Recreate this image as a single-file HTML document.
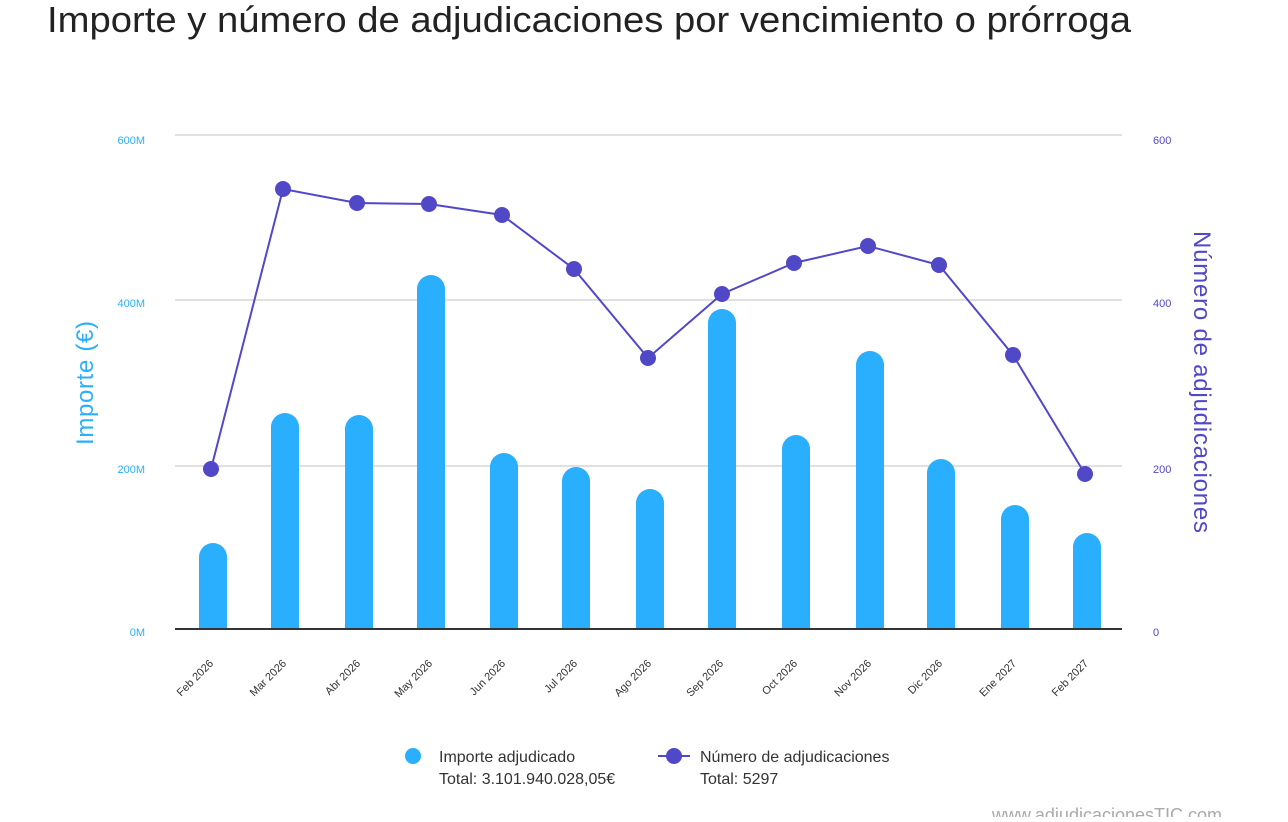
<!DOCTYPE html><html><head><meta charset="utf-8"><style>body{margin:0;background:#fff;width:1288px;height:817px;overflow:hidden;font-family:"Liberation Sans",sans-serif}</style></head><body>
<svg width="1288" height="817" xmlns="http://www.w3.org/2000/svg" font-family="Liberation Sans, sans-serif">
<text x="47" y="32" font-size="36" fill="#222" textLength="1084" lengthAdjust="spacingAndGlyphs">Importe y número de adjudicaciones por vencimiento o prórroga</text>
<g stroke="#e0e0e0" stroke-width="2"><line x1="175" y1="135" x2="1122" y2="135"/><line x1="175" y1="300" x2="1122" y2="300"/><line x1="175" y1="466" x2="1122" y2="466"/></g>
<g fill="#2aaefe" font-size="11" text-anchor="end"><text x="145" y="144">600M</text><text x="145" y="307">400M</text><text x="145" y="473">200M</text><text x="145" y="636">0M</text></g>
<g fill="#5148c8" font-size="11"><text x="1153" y="144">600</text><text x="1153" y="307">400</text><text x="1153" y="473">200</text><text x="1153" y="636">0</text></g>
<text transform="translate(93,383) rotate(-90)" text-anchor="middle" font-size="24" fill="#2aaefe" textLength="124">Importe (€)</text>
<text transform="translate(1194,382) rotate(90)" text-anchor="middle" font-size="24" fill="#5148c8" textLength="302">Número de adjudicaciones</text>
<g fill="#2aaefe">
<rect x="199" y="543" width="28" height="87" rx="14"/><rect x="199" y="580" width="28" height="50"/>
<rect x="271" y="413" width="28" height="217" rx="14"/><rect x="271" y="450" width="28" height="180"/>
<rect x="345" y="415" width="28" height="215" rx="14"/><rect x="345" y="450" width="28" height="180"/>
<rect x="417" y="275" width="28" height="355" rx="14"/><rect x="417" y="310" width="28" height="320"/>
<rect x="490" y="453" width="28" height="177" rx="14"/><rect x="490" y="480" width="28" height="150"/>
<rect x="562" y="467" width="28" height="163" rx="14"/><rect x="562" y="500" width="28" height="130"/>
<rect x="636" y="489" width="28" height="141" rx="14"/><rect x="636" y="520" width="28" height="110"/>
<rect x="708" y="309" width="28" height="321" rx="14"/><rect x="708" y="340" width="28" height="290"/>
<rect x="782" y="435" width="28" height="195" rx="14"/><rect x="782" y="470" width="28" height="160"/>
<rect x="856" y="351" width="28" height="279" rx="14"/><rect x="856" y="390" width="28" height="240"/>
<rect x="927" y="459" width="28" height="171" rx="14"/><rect x="927" y="490" width="28" height="140"/>
<rect x="1001" y="505" width="28" height="125" rx="14"/><rect x="1001" y="540" width="28" height="90"/>
<rect x="1073" y="533" width="28" height="97" rx="14"/><rect x="1073" y="560" width="28" height="70"/>
</g>
<line x1="175" y1="629" x2="1122" y2="629" stroke="#333" stroke-width="2"/>
<polyline fill="none" stroke="#5148c8" stroke-width="2" points="211,469 283,189 357,203 429,204 502,215 574,269 648,358 722,294 794,263 868,246 939,265 1013,355 1085,474"/>
<g fill="#5148c8"><circle cx="211" cy="469" r="8"/><circle cx="283" cy="189" r="8"/><circle cx="357" cy="203" r="8"/><circle cx="429" cy="204" r="8"/><circle cx="502" cy="215" r="8"/><circle cx="574" cy="269" r="8"/><circle cx="648" cy="358" r="8"/><circle cx="722" cy="294" r="8"/><circle cx="794" cy="263" r="8"/><circle cx="868" cy="246" r="8"/><circle cx="939" cy="265" r="8"/><circle cx="1013" cy="355" r="8"/><circle cx="1085" cy="474" r="8"/></g>
<g font-size="11" fill="#333" text-anchor="end">
<text transform="translate(214,664) rotate(-45)">Feb 2026</text>
<text transform="translate(287,664) rotate(-45)">Mar 2026</text>
<text transform="translate(361,664) rotate(-45)">Abr 2026</text>
<text transform="translate(433,664) rotate(-45)">May 2026</text>
<text transform="translate(506,664) rotate(-45)">Jun 2026</text>
<text transform="translate(578,664) rotate(-45)">Jul 2026</text>
<text transform="translate(652,664) rotate(-45)">Ago 2026</text>
<text transform="translate(724,664) rotate(-45)">Sep 2026</text>
<text transform="translate(798,664) rotate(-45)">Oct 2026</text>
<text transform="translate(872,664) rotate(-45)">Nov 2026</text>
<text transform="translate(943,664) rotate(-45)">Dic 2026</text>
<text transform="translate(1017,664) rotate(-45)">Ene 2027</text>
<text transform="translate(1089,664) rotate(-45)">Feb 2027</text>
</g>
<circle cx="413" cy="756" r="8" fill="#2aaefe"/>
<g font-size="16" fill="#333"><text x="439" y="762">Importe adjudicado</text><text x="439" y="784">Total: 3.101.940.028,05€</text>
<text x="700" y="762">Número de adjudicaciones</text><text x="700" y="784">Total: 5297</text></g>
<line x1="658" y1="756" x2="690" y2="756" stroke="#5148c8" stroke-width="2"/><circle cx="674" cy="756" r="8" fill="#5148c8"/>
<text x="1222" y="821" text-anchor="end" font-size="18" fill="#aaa">www.adjudicacionesTIC.com</text>
</svg></body></html>
